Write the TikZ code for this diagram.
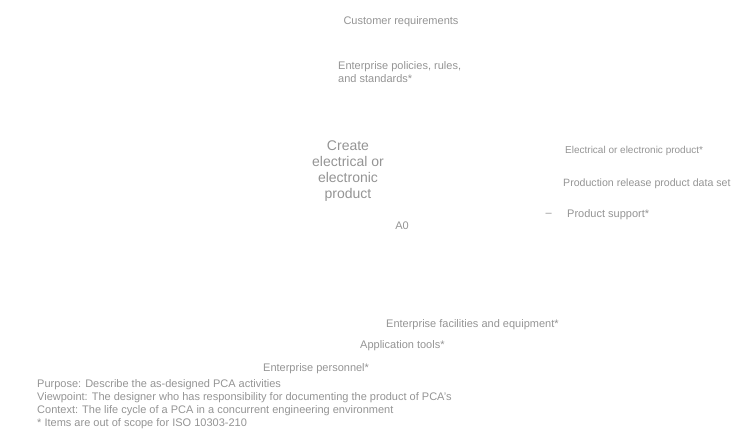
\documentclass[tikz,border=0pt]{standalone}
\usepackage{fontspec}
\setmainfont{Liberation Sans}

\tikzset{
  lbl/.style={text=black!42, font=\fontsize{11}{13}\selectfont, inner sep=0pt},
  narrow/.style={lbl, font=\fontsize{10}{12}\selectfont},
  boxtext/.style={lbl, font=\fontsize{14}{16}\selectfont, align=center}
}

\begin{document}
\begin{tikzpicture}[x=1pt, y=-1pt]

    % Page size
    \useasboundingbox (0,0) rectangle (738,446);

    % Activity box text
    \node[boxtext] (act) at (348,171) {Create\\electrical or\\electronic\\product};
    \node[lbl] (num) at (402,226) {A0};

    % Inputs and controls
    \node[lbl] (custreq) at (401,22) {Customer requirements};
    \node[lbl, align=left, anchor=west] (policies) at (338,72) {Enterprise policies, rules,\\and standards*};

    % Outputs
    \node[narrow, anchor=west] (elprod) at (565,151) {Electrical or electronic product*};
    \node[narrow, font=\fontsize{10.6}{12}\selectfont, anchor=west] (release) at (563,184) {Production release product data set};
    \node[lbl, anchor=west] (support) at (567,215) {Product support*};
    \node[lbl, anchor=east] (stub) at (552,215) {–};

    % Mechanisms
    \node[lbl, anchor=west] (facil) at (386,325) {Enterprise facilities and equipment*};
    \node[lbl, anchor=west] (tools) at (360,346) {Application tools*};
    \node[lbl, anchor=west] (staff) at (263,369) {Enterprise personnel*};

    % Notes
    \node[lbl, align=left, anchor=west] (notes) at (37,404) {Purpose: Describe the as-designed PCA activities\\Viewpoint: The designer who has responsibility for documenting the product of PCA's\\Context: The life cycle of a PCA in a concurrent engineering environment\\* Items are out of scope for ISO 10303-210};

\end{tikzpicture}
\end{document}
